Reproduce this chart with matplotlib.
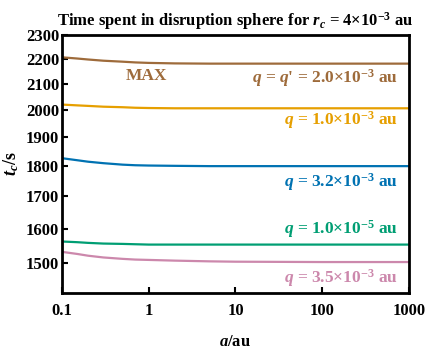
import numpy as np
import matplotlib
matplotlib.use("Agg")
import matplotlib.pyplot as plt
import matplotlib.transforms as mtransforms

plt.rcParams['font.family'] = 'Liberation Serif'
plt.rcParams['font.weight'] = 'bold'
plt.rcParams['axes.titleweight'] = 'bold'
plt.rcParams['axes.labelweight'] = 'bold'
plt.rcParams['mathtext.fontset'] = 'custom'
plt.rcParams['mathtext.rm'] = 'Liberation Serif:bold'
plt.rcParams['mathtext.it'] = 'Liberation Serif:italic:bold'
plt.rcParams['mathtext.bf'] = 'Liberation Serif:bold'

# semi-major axis a [au]
a = [0.1, 0.15, 0.2, 0.3, 0.5, 0.7, 1, 2, 5, 10, 100, 1000]

# time spent in disruption sphere t_c [s]
t_max = [2206, 2201, 2197, 2192, 2188, 2185, 2183, 2181, 2180, 2180, 2180, 2180]
t_q10m3 = [2019, 2016, 2014, 2011, 2009, 2007, 2006, 2005, 2005, 2005, 2005, 2005]
t_q32m3 = [1826, 1819, 1814, 1809, 1804, 1802, 1801, 1800, 1799, 1799, 1799, 1799]
t_q10m5 = [1562, 1560, 1558, 1556, 1555, 1554, 1553, 1553, 1553, 1553, 1553, 1553]
t_q35m3 = [1532, 1526, 1521, 1516, 1512, 1510, 1509, 1507, 1505, 1504, 1503, 1503]

labels = [r"$q$ = $q$' = 2.0×10$^{-3}$ au",
          r"$q$ = 1.0×10$^{-3}$ au",
          r"$q$ = 3.2×10$^{-3}$ au",
          r"$q$ = 1.0×10$^{-5}$ au",
          r"$q$ = 3.5×10$^{-3}$ au"]
colors = ['#9E6B3B', '#E69F00', '#0072B2', '#009E73', '#CC88AC']
label_y = [2123, 1961, 1745, 1600, 1459]

yticks = [1500, 1600, 1700, 1800, 1900, 2000, 2100, 2200, 2300]
xticks = [0.1, 1, 10, 100, 1000]
xticklabels = ['0.1', '1', '10', '100', '1000']

fig = plt.figure(figsize=(4.36, 3.54), dpi=100)
ax = fig.add_axes([0.142, 0.172, 0.796, 0.729])

series = [t_max, t_q10m3, t_q32m3, t_q10m5, t_q35m3]
for ys, c in zip(series, colors):
    ax.plot(a, ys, color=c, lw=1.6)

ax.set_xscale('log')
ax.set_yscale('log')
ax.set_xlim(0.1, 1000)
ax.set_ylim(1418, 2300)

ax.set_xticks(xticks)
ax.set_xticklabels(xticklabels)
ax.set_yticks(yticks)
ax.set_yticklabels([str(v) for v in yticks])
ax.minorticks_off()
ax.tick_params(axis='both', direction='in', length=4, width=1.5,
               labelsize=12)
ax.tick_params(axis='x', pad=7)
ax.tick_params(axis='y', pad=2)
for s in ax.spines.values():
    s.set_linewidth(2)

trans = mtransforms.blended_transform_factory(ax.transAxes, ax.transData)
for lab, c, yy in zip(labels, colors, label_y):
    ax.text(0.968, yy, lab, color=c, fontsize=12.5, ha='right', va='center',
            transform=trans)
ax.text(0.95, 2130, 'MAX', color=colors[0], fontsize=12.5, ha='center',
        va='center')

ax.set_xlabel(r"$a$/au", fontsize=12)
ax.set_ylabel(r"$t_c$/s", fontsize=13)
ax.xaxis.set_label_coords(0.5, -0.16)
ax.yaxis.set_label_coords(-0.118, 0.5)
ax.set_title(r"Time spent in disruption sphere for $r_c$ = 4×10$^{-3}$ au",
             fontsize=12, pad=7)

fig.savefig('out.png', dpi=100)
